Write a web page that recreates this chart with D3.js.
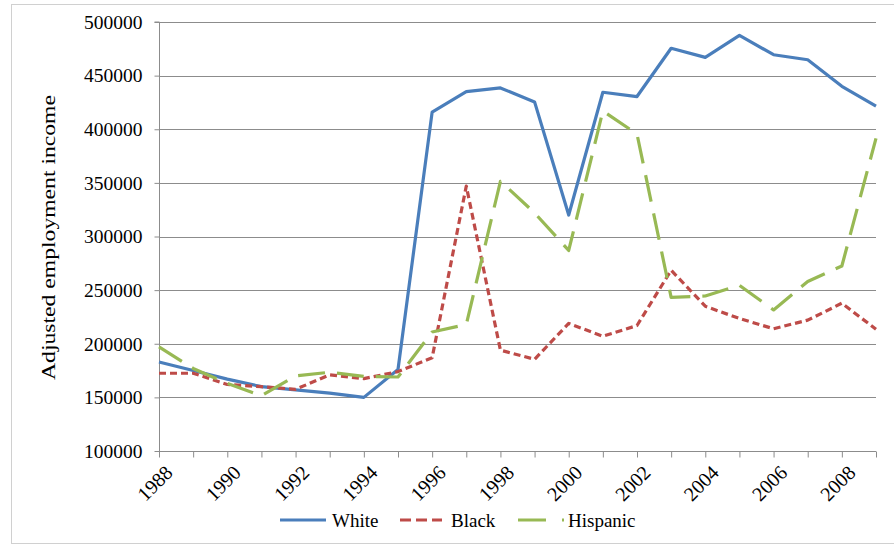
<!DOCTYPE html>
<html><head><meta charset="utf-8">
<script src="https://cdn.jsdelivr.net/npm/d3@7"></script>
<style>body{margin:0;background:#fff}svg{display:block}svg text{font-family:"Liberation Serif","Times New Roman",serif}</style>
</head><body><svg id="c" width="894" height="546"></svg>
<script>
const years = d3.range(1988, 2010);
const white = [183000,175000,167000,160000,157000,154000,150000,176000,416000,435000,438500,425500,320000,434500,430500,475500,467000,487500,469500,464800,440000,421500];
const black = [172500,172500,162000,160000,157500,171000,167500,174000,187000,347000,194000,185500,219000,207000,217000,268500,235000,223500,214000,222000,237800,213500];
const hispanic = [197000,177000,163000,151500,170000,173400,169500,169000,211000,218000,351500,322000,287000,417000,395500,243300,244500,254500,231500,258000,272500,391500];
const yTicks = [100000,150000,200000,250000,300000,350000,400000,450000,500000];
const xLabels = d3.range(1988, 2010, 2);
const seriesNames = ["White","Black","Hispanic"];

const svg = d3.select("#c");
const L = 159, R = 876, T = 22, B = 451;
const x = d3.scaleLinear().domain([1988, 2009]).range([L, R]);
const y = d3.scaleLinear().domain([100000, 500000]).range([B, T]);

// outer frame
svg.append("rect").attr("x", 11.5).attr("y", 4.5).attr("width", 900).attr("height", 539)
  .attr("fill", "none").attr("stroke", "#d0d0d0").attr("stroke-width", 1);

// gridlines
svg.append("g").selectAll("line").data(yTicks.slice(1)).join("line")
  .attr("x1", L).attr("x2", R).attr("y1", d => Math.round(y(d)) + 0.5).attr("y2", d => Math.round(y(d)) + 0.5)
  .attr("stroke", "#8c8c8c").attr("stroke-width", 1);

// y axis
const ya = svg.append("g").attr("transform", `translate(${L + 0.5},0)`)
  .call(d3.axisLeft(y).tickValues(yTicks).tickSize(5).tickPadding(12).tickFormat(d3.format("d")));
ya.attr("font-family", null);
ya.select(".domain").attr("stroke", "#8c8c8c").attr("d", `M-5,${T}H0V${B}`);
ya.selectAll(".tick line").attr("stroke", "#8c8c8c");
ya.selectAll(".tick text").attr("font-size", 19.5).attr("fill", "#000");

// x axis
const xa = svg.append("g").attr("transform", `translate(0,${B + 0.5})`)
  .call(d3.axisBottom(x).tickValues(years).tickSize(6).tickFormat(""));
xa.select(".domain").attr("stroke", "#8c8c8c").attr("d", `M${L},0H${R}`);
xa.selectAll(".tick line").attr("stroke", "#8c8c8c");
svg.append("g").selectAll("text").data(xLabels).join("text")
  .attr("transform", d => `translate(${x(d) + 5},${B + 13}) rotate(-45)`)
  .attr("text-anchor", "end").attr("dy", "0.7em")
  .attr("font-size", 20).attr("fill", "#000").text(d => d);

// y label
svg.append("text").attr("transform", `translate(55,${(T + B) / 2 + 1}) rotate(-90)`)
  .attr("text-anchor", "middle").attr("font-size", 18).attr("fill", "#000")
  .attr("textLength", 285).attr("lengthAdjust", "spacingAndGlyphs")
  .text("Adjusted employment income");

const styles = [
  {data: white, color: "#4a7ebb", dash: null, legDash: null},
  {data: black, color: "#be4b48", dash: "7,4", legDash: "11,5"},
  {data: hispanic, color: "#98b954", dash: "27,12", legDash: "28,16,2,10"}
];
const line = d3.line().x((d, i) => x(years[i])).y(d => y(d));
const plotG = svg.append("g");
styles.forEach(s => {
  plotG.append("path").datum(s.data).attr("d", line)
    .attr("fill", "none").attr("stroke", s.color).attr("stroke-width", 3.2)
    .attr("stroke-linejoin", "round")
    .attr("stroke-dasharray", s.dash);
});

// legend
const legX = [280, 400, 518];
const legW = [46, 42, 47];
const legTextX = [332, 451, 568];
const lg = svg.append("g");
styles.forEach((s, i) => {
  lg.append("line").attr("x1", legX[i]).attr("x2", legX[i] + legW[i]).attr("y1", 520).attr("y2", 520)
    .attr("stroke", s.color).attr("stroke-width", 3.2).attr("stroke-dasharray", s.legDash);
  lg.append("text").attr("x", legTextX[i]).attr("y", 527).attr("font-size", 19).attr("fill", "#000").text(seriesNames[i]);
});
</script></body></html>
